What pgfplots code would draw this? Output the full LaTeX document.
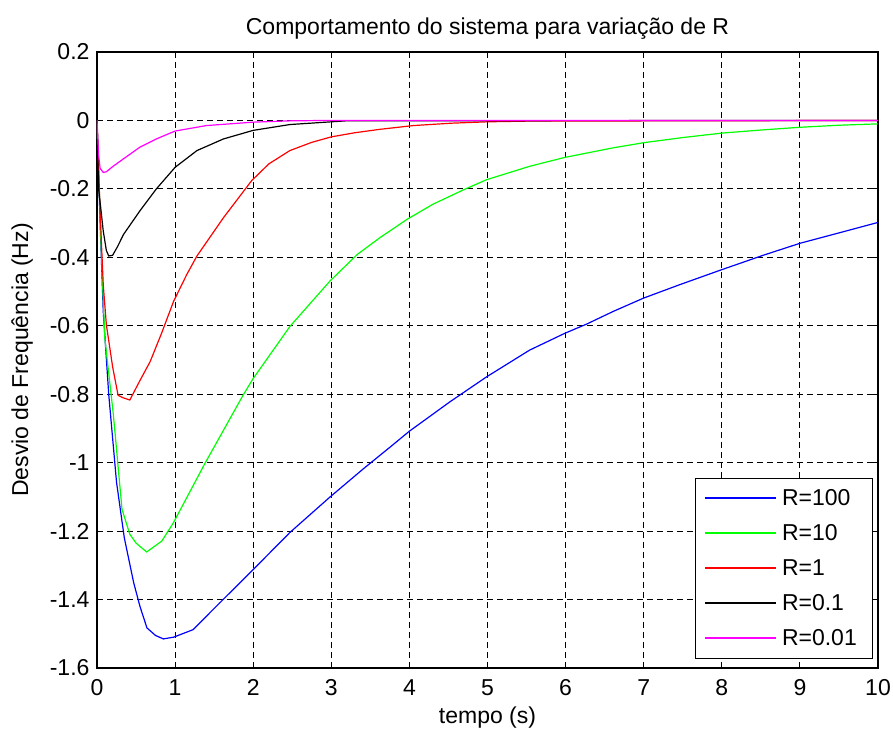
\documentclass[border=0pt]{standalone}
\usepackage{fontspec}
\setmainfont{Liberation Sans}
\usepackage{pgfplots}
\pgfplotsset{compat=1.18}

\definecolor{linhaazul}{RGB}{0,0,255}
\definecolor{linhaverde}{RGB}{0,255,0}
\definecolor{linhavermelha}{RGB}{255,0,0}
\definecolor{linhapreta}{RGB}{0,0,0}
\definecolor{linhamagenta}{RGB}{255,0,255}

% Frequency deviation responses for several droop values R
\pgfplotstableread{
t      y
0      0
0.04   -0.30
0.08   -0.558
0.15   -0.80
0.25   -1.057
0.35   -1.22
0.47   -1.351
0.55   -1.42
0.64   -1.483
0.75   -1.505
0.85   -1.515
0.98   -1.51
1.23   -1.488
1.57   -1.41
1.98   -1.317
2.47   -1.204
2.98   -1.101
3.41   -1.018
3.75   -0.955
4.00   -0.908
4.52   -0.822
4.99   -0.749
5.54   -0.671
5.99   -0.622
6.27   -0.595
6.61   -0.558
7.00   -0.519
7.46   -0.48
8.00   -0.436
8.53   -0.394
9.00   -0.359
9.51   -0.328
10     -0.298
}\Rcem

\pgfplotstableread{
t      y
0      0
0.05   -0.35
0.10   -0.636
0.21   -0.861
0.32   -1.136
0.42   -1.209
0.50   -1.235
0.636  -1.261
0.83   -1.229
0.98   -1.175
1.38   -1.003
1.87   -0.803
2.00   -0.754
2.47   -0.602
2.98   -0.47
3.33   -0.392
3.62   -0.343
3.97   -0.289
4.30   -0.245
4.69   -0.203
4.99   -0.173
5.54   -0.134
5.99   -0.108
6.61   -0.080
7.00   -0.065
7.50   -0.050
8.00   -0.037
8.50   -0.028
9.00   -0.020
9.50   -0.014
10     -0.010
}\Rdez

\pgfplotstableread{
t      y
0      0
0.04   -0.27
0.08   -0.48
0.12   -0.597
0.20   -0.72
0.27   -0.803
0.33   -0.81
0.42   -0.817
0.55   -0.76
0.68   -0.705
0.83   -0.62
0.98   -0.529
1.15   -0.45
1.28   -0.396
1.62   -0.284
1.98   -0.176
2.20   -0.127
2.47   -0.088
2.75   -0.064
3.00   -0.048
3.30   -0.036
3.62   -0.026
4.05   -0.015
4.54   -0.008
5.00   -0.004
5.50   -0.002
10     0
}\Rum

\pgfplotstableread{
t      y
0      0
0.02   -0.20
0.05   -0.26
0.08   -0.323
0.12   -0.38
0.15   -0.396
0.20   -0.394
0.26   -0.37
0.34   -0.333
0.55   -0.264
0.76   -0.20
1.00   -0.137
1.28   -0.088
1.62   -0.054
2.00   -0.029
2.47   -0.012
3.00   -0.004
3.20   -0.001
10     0
}\Rdecimo

\pgfplotstableread{
t      y
0      0
0.02   -0.10
0.04   -0.14
0.08   -0.152
0.12   -0.15
0.20   -0.135
0.34   -0.112
0.55   -0.078
0.76   -0.054
1.00   -0.031
1.40   -0.015
2.00   -0.005
2.50   -0.001
3.00   0
10     0
}\Rcentesimo

\begin{document}
\begin{tikzpicture}
\begin{axis}[
  name=ax,
  scale only axis,
  width=781pt, height=616pt,
  xmin=0, xmax=10, ymin=-1.6, ymax=0.2,
  xtick={0,1,2,3,4,5,6,7,8,9,10},
  xticklabels={0,1,2,3,4,5,6,7,8,9,10},
  ytick={-1.6,-1.4,-1.2,-1,-0.8,-0.6,-0.4,-0.2,0,0.2},
  yticklabels={-1.6,-1.4,-1.2,-1,-0.8,-0.6,-0.4,-0.2,0,0.2},
  tick align=inside,
  major tick length=6pt,
  tick style={black, line width=1pt},
  axis line style={black, line width=1.2pt},
  grid=major,
  major grid style={black, line width=1pt, dash pattern=on 6pt off 4pt},
  font=\fontsize{23}{27}\selectfont,
  ticklabel style={font=\fontsize{23}{27}\selectfont},
  yticklabel style={xshift=-4pt},
  xticklabel style={yshift=-8pt},
  title={Comportamento do sistema para variação de R},
  title style={yshift=3pt},
  xlabel={tempo (s)},
  ylabel={Desvio de Frequência (Hz)},
  xlabel shift=4pt,
  ylabel shift=10pt,
  legend cell align=left,
  legend style={at={(1,0)}, anchor=south east, xshift=-6pt, yshift=10pt,
    draw=black, fill=white,
    font=\fontsize{23}{27}\selectfont,
    nodes={inner sep=5pt},
    inner xsep=10pt, inner ysep=6pt, row sep=7.5pt},
  legend image code/.code={\draw[#1] (0pt,0pt) -- (71pt,0pt);},
]
\addplot[color=linhaazul, line width=1.2pt, no markers] table[x=t, y=y] {\Rcem};
\addlegendentry{R=100}
\addplot[color=linhaverde, line width=1.2pt, no markers] table[x=t, y=y] {\Rdez};
\addlegendentry{R=10}
\addplot[color=linhavermelha, line width=1.2pt, no markers] table[x=t, y=y] {\Rum};
\addlegendentry{R=1}
\addplot[color=linhapreta, line width=1.2pt, no markers] table[x=t, y=y] {\Rdecimo};
\addlegendentry{R=0.1}
\addplot[color=linhamagenta, line width=1.2pt, no markers] table[x=t, y=y] {\Rcentesimo};
\addlegendentry{R=0.01}
\end{axis}
\pgfresetboundingbox
\path ([shift={(-97pt,-65pt)}]ax.south west) rectangle ([shift={(15pt,52pt)}]ax.north east);
\end{tikzpicture}
\end{document}
